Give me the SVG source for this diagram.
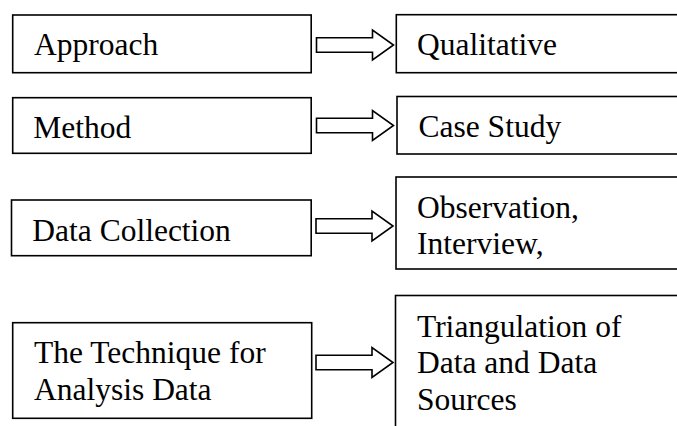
<svg xmlns="http://www.w3.org/2000/svg" width="677" height="426" viewBox="0 0 677 426">
<style>
.box{fill:#fff;stroke:#000;stroke-width:1.6}
.t{font-size:31.5px;fill:#000}
.arr{fill:#fff;stroke:#000;stroke-width:1.6;stroke-linejoin:miter}
</style>
<defs>
<path id="arrow" d="M0,-7.3 H56 V-15 L77,0 L56,15 V7.3 H0 Z"/>
</defs>
<rect width="677" height="426" fill="#fff"/>
<g font-family="Liberation Serif, Times New Roman, Times, serif">
<g id="approach"><rect class="box" x="12.7" y="15" width="298.5" height="57.7"/><text class="t" x="34" y="55">Approach</text></g>
<g id="qualitative"><rect class="box" x="396.3" y="14.7" width="300" height="58"/><text class="t" x="417" y="55">Qualitative</text></g>
<g id="method"><rect class="box" x="12.7" y="97.7" width="298.5" height="55.6"/><text class="t" x="33.3" y="137.5">Method</text></g>
<g id="case-study"><rect class="box" x="397" y="96.5" width="300" height="57.5"/><text class="t" x="418.5" y="137">Case Study</text></g>
<g id="data-collection"><rect class="box" x="11.5" y="200" width="299.7" height="55.7"/><text class="t" x="32.3" y="240.7">Data Collection</text></g>
<g id="observation"><rect class="box" x="396" y="177" width="300" height="92"/><text class="t" x="417" y="217.5">Observation,</text><text class="t" x="417" y="254">Interview,</text></g>
<g id="technique"><rect class="box" x="12.7" y="322.7" width="299" height="95.6"/><text class="t" x="34" y="363.3">The Technique for</text><text class="t" x="34" y="399.8">Analysis Data</text></g>
<g id="triangulation"><rect class="box" x="395.5" y="295.5" width="300" height="160"/><text class="t" x="417" y="336.7">Triangulation of</text><text class="t" x="417" y="373.3">Data and Data</text><text class="t" x="417" y="410">Sources</text></g>
</g>
<g id="connectors">
<use href="#arrow" class="arr" transform="translate(316.5,45)"/>
<use href="#arrow" class="arr" transform="translate(316.5,125.5)"/>
<use href="#arrow" class="arr" transform="translate(316,226)"/>
<use href="#arrow" class="arr" transform="translate(316,362.5)"/>
</g>
</svg>
